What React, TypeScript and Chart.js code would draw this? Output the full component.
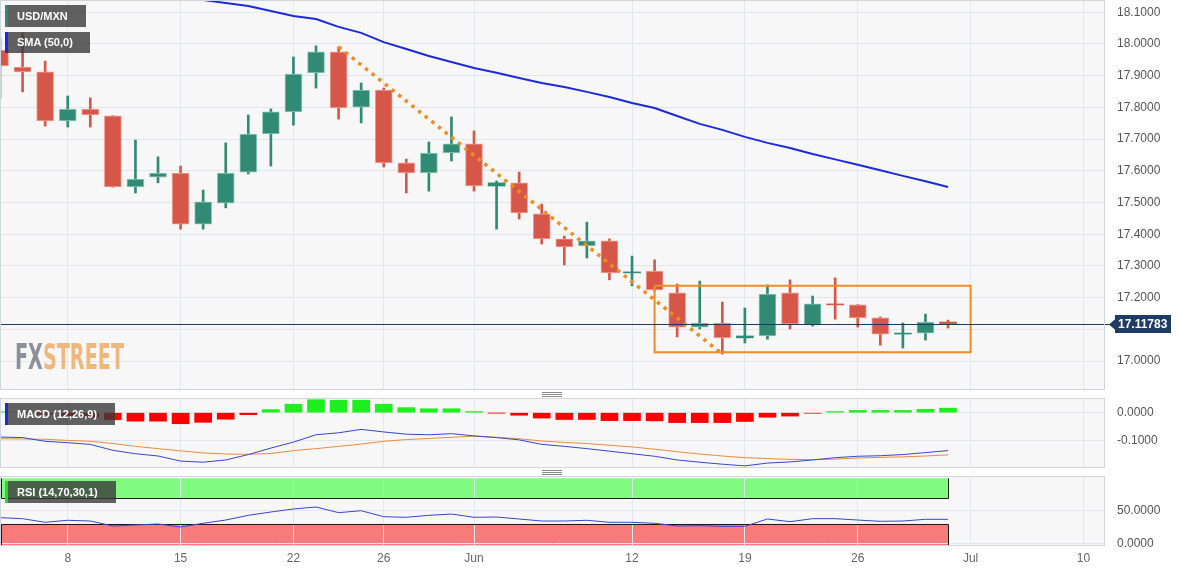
import React, { useEffect, useRef } from 'react';
import { Chart, registerables } from 'chart.js';

Chart.register(...registerables);

// ---------- DATA ----------
const tradingDays = [
  'May 3', 'May 4', 'May 5', 'May 8', 'May 9', 'May 10', 'May 11', 'May 12', 'May 15', 'May 16',
  'May 17', 'May 18', 'May 19', 'May 22', 'May 23', 'May 24', 'May 25', 'May 26', 'May 29', 'May 30',
  'May 31', 'Jun 1', 'Jun 2', 'Jun 5', 'Jun 6', 'Jun 7', 'Jun 8', 'Jun 9', 'Jun 12', 'Jun 13',
  'Jun 14', 'Jun 15', 'Jun 16', 'Jun 19', 'Jun 20', 'Jun 21', 'Jun 22', 'Jun 23', 'Jun 26', 'Jun 27',
  'Jun 28', 'Jun 29', 'Jun 30',
];

const opens = [
  17.981, 17.927, 17.912, 17.757, 17.795, 17.773, 17.549, 17.580, 17.593, 17.432,
  17.498, 17.596, 17.716, 17.786, 17.909, 17.975, 17.801, 17.855, 17.625, 17.593,
  17.656, 17.685, 17.552, 17.562, 17.464, 17.385, 17.363, 17.379, 17.278, 17.284,
  17.215, 17.107, 17.120, 17.073, 17.079, 17.215, 17.114, 17.180, 17.177, 17.136,
  17.085, 17.088, 17.123,
];
const highs = [
  18.019, 18.035, 17.946, 17.836, 17.830, 17.774, 17.697, 17.644, 17.615, 17.539,
  17.688, 17.776, 17.795, 17.959, 17.994, 17.991, 17.877, 17.861, 17.637, 17.691,
  17.770, 17.726, 17.568, 17.596, 17.495, 17.394, 17.438, 17.385, 17.331, 17.319,
  17.243, 17.252, 17.186, 17.167, 17.240, 17.256, 17.205, 17.262, 17.178, 17.139,
  17.120, 17.148, 17.129,
];
const lows = [
  17.830, 17.849, 17.741, 17.738, 17.738, 17.548, 17.530, 17.562, 17.416, 17.416,
  17.483, 17.590, 17.615, 17.744, 17.861, 17.763, 17.751, 17.612, 17.530, 17.536,
  17.631, 17.536, 17.416, 17.448, 17.369, 17.303, 17.325, 17.256, 17.237, 17.221,
  17.076, 17.101, 17.022, 17.057, 17.069, 17.101, 17.110, 17.132, 17.107, 17.050,
  17.041, 17.066, 17.104,
];
const closes = [
  17.931, 17.912, 17.757, 17.795, 17.776, 17.549, 17.574, 17.593, 17.432, 17.502,
  17.593, 17.716, 17.786, 17.905, 17.975, 17.798, 17.855, 17.625, 17.593, 17.656,
  17.685, 17.552, 17.562, 17.467, 17.385, 17.360, 17.379, 17.278, 17.281, 17.224,
  17.107, 17.120, 17.073, 17.079, 17.211, 17.117, 17.180, 17.177, 17.136, 17.085,
  17.088, 17.123, 17.11783,
];

const smaStart = 6;
const sma50 = [
  18.170, 18.159, 18.148, 18.139, 18.129, 18.120, 18.104, 18.088, 18.079, 18.054,
  18.035, 18.006, 17.984, 17.962, 17.943, 17.924, 17.909, 17.893, 17.877, 17.864,
  17.849, 17.833, 17.814, 17.798, 17.773, 17.748, 17.729, 17.707, 17.688, 17.672,
  17.653, 17.636, 17.619, 17.602, 17.584, 17.567, 17.549,
];

const trendIdx = [15, 32];
const trendPrices = [17.991, 17.022];
const rangeIdx = [29, 43];
const rangePrices = [17.237, 17.028];
const lastPrice = 17.11783;

const macdLine = [
  -0.086, -0.088, -0.101, -0.106, -0.112, -0.133, -0.145, -0.153, -0.171, -0.175,
  -0.167, -0.148, -0.125, -0.104, -0.078, -0.071, -0.059, -0.068, -0.076, -0.078,
  -0.074, -0.082, -0.088, -0.096, -0.112, -0.119, -0.127, -0.136, -0.145, -0.154,
  -0.167, -0.175, -0.182, -0.188, -0.178, -0.174, -0.167, -0.159, -0.154, -0.152,
  -0.148, -0.141, -0.134,
];
const macdSignal = [
  -0.092, -0.093, -0.094, -0.098, -0.101, -0.109, -0.119, -0.127, -0.135, -0.142,
  -0.146, -0.147, -0.144, -0.134, -0.127, -0.119, -0.111, -0.101, -0.095, -0.091,
  -0.087, -0.083, -0.087, -0.092, -0.100, -0.105, -0.109, -0.115, -0.121, -0.129,
  -0.138, -0.146, -0.153, -0.159, -0.162, -0.165, -0.166, -0.164, -0.160, -0.158,
  -0.156, -0.153, -0.149,
];
const macdHist = [
  0.003, 0.001, -0.006, -0.010, -0.016, -0.025, -0.030, -0.030, -0.039, -0.034,
  -0.023, -0.007, 0.011, 0.030, 0.046, 0.044, 0.044, 0.030, 0.018, 0.014,
  0.014, 0.004, -0.001, -0.009, -0.019, -0.024, -0.024, -0.028, -0.028, -0.029,
  -0.035, -0.035, -0.035, -0.031, -0.016, -0.012, -0.002, 0.004, 0.008, 0.008,
  0.008, 0.012, 0.016,
];
const rsi = [
  39.6, 38.1, 32.5, 35.6, 34.5, 26.8, 28.4, 29.9, 25.3, 31.0,
  36.0, 43.2, 48.3, 52.9, 56.0, 47.3, 50.3, 41.1, 40.2, 43.2,
  45.2, 40.2, 40.6, 37.6, 34.5, 34.5, 35.6, 32.5, 32.5, 31.0,
  26.8, 27.3, 26.3, 26.3, 37.6, 33.5, 38.1, 38.1, 36.0, 34.0,
  34.5, 37.1, 37.1,
];
const rsiBands = [30, 70, 100];

const xTickIdx = [3, 8, 13, 17, 21, 28, 33, 38, 43, 48];
const xTickLabels = ['8', '15', '22', '26', 'Jun', '12', '19', '26', 'Jul', '10'];
const priceTicks = [17.0, 17.1, 17.2, 17.3, 17.4, 17.5, 17.6, 17.7, 17.8, 17.9, 18.0, 18.1];
const macdTicks = [-0.1, 0];
const rsiTicks = [0, 50];

// ---------- STYLE ----------
const FONT = '"Liberation Sans", Arial, Helvetica, sans-serif';
const GRID = '#e3e6eb';
const BORDER = '#d0d6e0';
const PANEL_BG = '#f7f7f7';
const UP = '#318a73';
const DOWN = '#d65747';
const UP_EDGE = '#8ccbbb';
const DOWN_EDGE = '#f1a096';
const ORANGE = '#f28b22';
const NAVY = '#1f3b63';
const X_MIN = 0.044;
const X_MAX = 48.91;

const panelPlugin = {
  id: 'panelBg',
  beforeDraw(chart: any) {
    const { ctx, chartArea: a } = chart;
    ctx.save();
    ctx.fillStyle = PANEL_BG;
    ctx.fillRect(a.left, a.top, a.right - a.left, a.bottom - a.top);
    ctx.restore();
  },
  afterDraw(chart: any) {
    const { ctx, chartArea: a } = chart;
    ctx.save();
    ctx.strokeStyle = BORDER;
    ctx.lineWidth = 1;
    ctx.strokeRect(
      Math.round(a.left) - 0.5,
      Math.round(a.top) - 0.5,
      Math.round(a.right - a.left) + 1,
      Math.round(a.bottom - a.top) + 1
    );
    ctx.restore();
  },
};

function xScale(showLabels: boolean) {
  return {
    type: 'linear',
    min: X_MIN,
    max: X_MAX,
    offset: false,
    afterBuildTicks: (s: any) => {
      s.ticks = xTickIdx.map((v) => ({ value: v }));
    },
    afterFit: (s: any) => {
      s.height = showLabels ? 25 : 0;
      s.paddingLeft = 0;
      s.paddingRight = 0;
    },
    grid: { color: GRID, lineWidth: 1, drawTicks: false, offset: false },
    border: { display: false },
    ticks: {
      display: showLabels,
      autoSkip: false,
      maxRotation: 0,
      padding: 6,
      color: '#666',
      font: { family: FONT, size: 12 },
      callback: (v: any) => {
        const k = xTickIdx.indexOf(Number(v));
        return k >= 0 ? xTickLabels[k] : '';
      },
    },
  };
}

function yScale(min: number, max: number, ticks: number[]) {
  return {
    type: 'linear',
    position: 'right',
    min,
    max,
    afterBuildTicks: (s: any) => {
      s.ticks = ticks.map((v) => ({ value: v }));
    },
    afterFit: (s: any) => {
      s.width = 78;
      s.paddingTop = 0;
      s.paddingBottom = 0;
    },
    grid: { color: GRID, lineWidth: 1, drawTicks: false },
    border: { display: false },
    ticks: {
      padding: 13,
      color: '#555',
      font: { family: FONT, size: 12 },
      callback: (v: any) => Number(v).toFixed(4),
    },
  };
}

const baseOptions = {
  responsive: false,
  animation: false,
  events: [],
  plugins: { legend: { display: false }, tooltip: { enabled: false } },
};

export default function App() {
  const mainRef = useRef<HTMLCanvasElement>(null);
  const macdRef = useRef<HTMLCanvasElement>(null);
  const rsiRef = useRef<HTMLCanvasElement>(null);

  useEffect(() => {
    document.body.style.margin = '0';
    const idx = tradingDays.map((_, i) => i);
    const up = idx.map((i) => closes[i] >= opens[i]);

    const watermark = {
      id: 'watermark',
      beforeDatasetsDraw(chart: any) {
        const ctx = chart.ctx;
        const a = chart.chartArea;
        ctx.save();
        ctx.font = 'bold 36px "DejaVu Sans Condensed", "DejaVu Sans", sans-serif';
        ctx.textBaseline = 'alphabetic';
        const wFX = ctx.measureText('FX').width;
        const wAll = ctx.measureText('FXSTREET').width;
        ctx.translate(a.left + 14, a.bottom - 20);
        ctx.scale(109 / wAll, 1);
        ctx.fillStyle = '#8c9099';
        ctx.fillText('FX', 0, 0);
        ctx.fillStyle = '#efb87a';
        ctx.fillText('STREET', wFX, 0);
        ctx.restore();
      },
    };

    const priceLine = {
      id: 'priceLine',
      afterDatasetsDraw(chart: any) {
        const { ctx, chartArea: a } = chart;
        const y = chart.scales.y.getPixelForValue(lastPrice);
        const yy = Math.round(y) + 0.5;
        ctx.save();
        ctx.strokeStyle = NAVY;
        ctx.lineWidth = 1;
        ctx.beginPath();
        ctx.moveTo(a.left, yy);
        ctx.lineTo(a.right + 6, yy);
        ctx.stroke();
        const bx = a.right + 11;
        const bw = 56;
        const bh = 18;
        ctx.fillStyle = NAVY;
        ctx.beginPath();
        ctx.moveTo(a.right + 5, yy);
        ctx.lineTo(bx + 1, yy - 6);
        ctx.lineTo(bx + 1, yy + 6);
        ctx.closePath();
        ctx.fill();
        ctx.fillRect(bx, Math.round(y - bh / 2), bw, bh);
        ctx.fillStyle = '#fff';
        ctx.font = `bold 12px ${FONT}`;
        ctx.textBaseline = 'middle';
        ctx.textAlign = 'left';
        ctx.fillText(lastPrice.toFixed(5), bx + 3, yy + 0.5);
        ctx.restore();
      },
    };

    const main = new Chart(mainRef.current as HTMLCanvasElement, {
      type: 'bar',
      data: {
        datasets: [
          {
            type: 'bar',
            label: 'wick',
            data: idx.map((i) => ({ x: i, y: [lows[i], highs[i]] })),
            backgroundColor: idx.map((i) => (up[i] ? UP : DOWN)),
            barThickness: 2,
            grouped: false,
            order: 5,
          },
          {
            type: 'bar',
            label: 'USD/MXN',
            data: idx.map((i) => ({ x: i, y: [opens[i], closes[i]] })),
            backgroundColor: idx.map((i) => (up[i] ? UP : DOWN)),
            borderColor: idx.map((i) => (up[i] ? UP_EDGE : DOWN_EDGE)),
            borderWidth: idx.map((i) => (Math.abs(opens[i] - closes[i]) > 0.012 ? 1 : 0)),
            borderSkipped: false,
            barThickness: 17,
            grouped: false,
            order: 4,
          },
          {
            type: 'line',
            label: 'SMA (50,0)',
            data: sma50.map((v, k) => ({ x: smaStart + k, y: v })),
            borderColor: '#1a2bd9',
            borderWidth: 2,
            pointRadius: 0,
            order: 3,
          },
          {
            type: 'line',
            label: 'trend',
            data: trendIdx.map((v, k) => ({ x: v, y: trendPrices[k] })),
            borderColor: ORANGE,
            borderWidth: 3.5,
            borderDash: [3.5, 5],
            pointRadius: 0,
            order: 2,
          },
          {
            type: 'line',
            label: 'range',
            data: [
              { x: rangeIdx[0], y: rangePrices[0] },
              { x: rangeIdx[1], y: rangePrices[0] },
              { x: rangeIdx[1], y: rangePrices[1] },
              { x: rangeIdx[0], y: rangePrices[1] },
              { x: rangeIdx[0], y: rangePrices[0] },
            ],
            borderColor: ORANGE,
            borderWidth: 2,
            pointRadius: 0,
            order: 1,
          },
        ],
      },
      options: {
        ...baseOptions,
        layout: { padding: { top: 1, left: 1, right: 0, bottom: 2 } },
        scales: { x: xScale(false), y: yScale(16.9117, 18.1356, priceTicks) },
      } as any,
      plugins: [panelPlugin, watermark, priceLine],
    } as any);

    const macd = new Chart(macdRef.current as HTMLCanvasElement, {
      type: 'bar',
      data: {
        datasets: [
          {
            type: 'line',
            label: 'MACD',
            data: idx.map((i) => ({ x: i, y: macdLine[i] })),
            borderColor: '#3b44d0',
            borderWidth: 1,
            pointRadius: 0,
            order: 1,
          },
          {
            type: 'line',
            label: 'Signal',
            data: idx.map((i) => ({ x: i, y: macdSignal[i] })),
            borderColor: '#f08a3c',
            borderWidth: 1,
            pointRadius: 0,
            order: 2,
          },
          {
            type: 'bar',
            label: 'Histogram',
            data: idx.map((i) => ({ x: i, y: macdHist[i] })),
            backgroundColor: idx.map((i) => (macdHist[i] >= 0 ? '#1eef1e' : '#ff0000')),
            barThickness: 17,
            grouped: false,
            order: 3,
          },
        ],
      },
      options: {
        ...baseOptions,
        layout: { padding: { top: 2, left: 1, right: 0, bottom: 2 } },
        scales: { x: xScale(false), y: yScale(-0.1919, 0.0484, macdTicks) },
      } as any,
      plugins: [panelPlugin],
    } as any);

    const bands = {
      id: 'rsiBands',
      beforeDraw(chart: any) {
        const { ctx, chartArea: a, scales } = chart;
        const xr = scales.x.getPixelForValue(idx[idx.length - 1]);
        const yTop = scales.y.getPixelForValue(rsiBands[2]);
        const yHi = scales.y.getPixelForValue(rsiBands[1]);
        const yLo = scales.y.getPixelForValue(rsiBands[0]);
        const yZero = scales.y.getPixelForValue(0);
        ctx.save();
        ctx.fillStyle = '#80fb80';
        ctx.fillRect(a.left, yTop, xr - a.left, yHi - yTop);
        ctx.fillStyle = '#f87a7a';
        ctx.fillRect(a.left, yLo, xr - a.left, yZero - yLo + 1.5);
        ctx.restore();
      },
      beforeDatasetsDraw(chart: any) {
        const { ctx, chartArea: a, scales } = chart;
        const xr = Math.round(scales.x.getPixelForValue(idx[idx.length - 1])) + 0.5;
        const yTop = scales.y.getPixelForValue(rsiBands[2]);
        const yHi = Math.round(scales.y.getPixelForValue(rsiBands[1])) + 0.5;
        const yLo = Math.round(scales.y.getPixelForValue(rsiBands[0])) + 0.5;
        const yZero = scales.y.getPixelForValue(0) + 1.5;
        ctx.save();
        ctx.strokeStyle = '#1a1a1a';
        ctx.lineWidth = 1;
        ctx.beginPath();
        ctx.moveTo(a.left + 0.5, yTop);
        ctx.lineTo(a.left + 0.5, yHi);
        ctx.lineTo(xr, yHi);
        ctx.lineTo(xr, yTop);
        ctx.moveTo(a.left + 0.5, yZero);
        ctx.lineTo(a.left + 0.5, yLo);
        ctx.lineTo(xr, yLo);
        ctx.lineTo(xr, yZero);
        ctx.stroke();
        ctx.restore();
      },
    };

    const rsiChart = new Chart(rsiRef.current as HTMLCanvasElement, {
      type: 'line',
      data: {
        datasets: [
          {
            label: 'RSI',
            data: idx.map((i) => ({ x: i, y: rsi[i] })),
            borderColor: '#3b44d0',
            borderWidth: 1,
            pointRadius: 0,
          },
        ],
      },
      options: {
        ...baseOptions,
        layout: { padding: { top: 2, left: 1, right: 0, bottom: 1 } },
        scales: { x: xScale(true), y: yScale(-2.3, 102.0, rsiTicks) },
      } as any,
      plugins: [panelPlugin, bands],
    } as any);

    return () => {
      main.destroy();
      macd.destroy();
      rsiChart.destroy();
    };
  }, []);

  const label = (text: string, left: number, top: number, w: number, h: number, stripe: string) => (
    <div
      style={{
        position: 'absolute',
        left,
        top,
        width: w,
        height: h,
        background: 'rgba(57,57,57,0.8)',
        color: '#fff',
        font: `bold 11px ${FONT}`,
        lineHeight: `${h}px`,
        paddingLeft: 12,
        boxSizing: 'border-box',
        whiteSpace: 'nowrap',
      }}
    >
      <div style={{ position: 'absolute', left: 0, top: 0, width: 3, height: h, background: stripe }} />
      {text}
    </div>
  );

  const handle = (top: number) => (
    <div style={{ position: 'absolute', left: 542, top, width: 20, height: 5 }}>
      {[0, 2, 4].map((d) => (
        <div key={d} style={{ position: 'absolute', left: 0, top: d, width: 20, height: 1, background: '#8a8a8a' }} />
      ))}
    </div>
  );

  return (
    <div
      style={{
        position: 'fixed',
        left: 0,
        top: 0,
        width: 1182,
        height: 571,
        background: '#fff',
        overflow: 'hidden',
        fontFamily: FONT,
      }}
    >
      <canvas ref={mainRef} width={1182} height={391} style={{ position: 'absolute', left: 0, top: 0 }} />
      <canvas ref={macdRef} width={1182} height={72} style={{ position: 'absolute', left: 0, top: 397 }} />
      <canvas ref={rsiRef} width={1182} height={96} style={{ position: 'absolute', left: 0, top: 475 }} />
      {handle(392)}
      {handle(470)}
      {label('USD/MXN', 5, 5, 81, 22, '#2e8a70')}
      {label('SMA (50,0)', 5, 32, 85, 21, '#1a2bd9')}
      {label('MACD (12,26,9)', 5, 403, 110, 22, '#1a2bd9')}
      {label('RSI (14,70,30,1)', 5, 481, 111, 22, '#22dd22')}
    </div>
  );
}
